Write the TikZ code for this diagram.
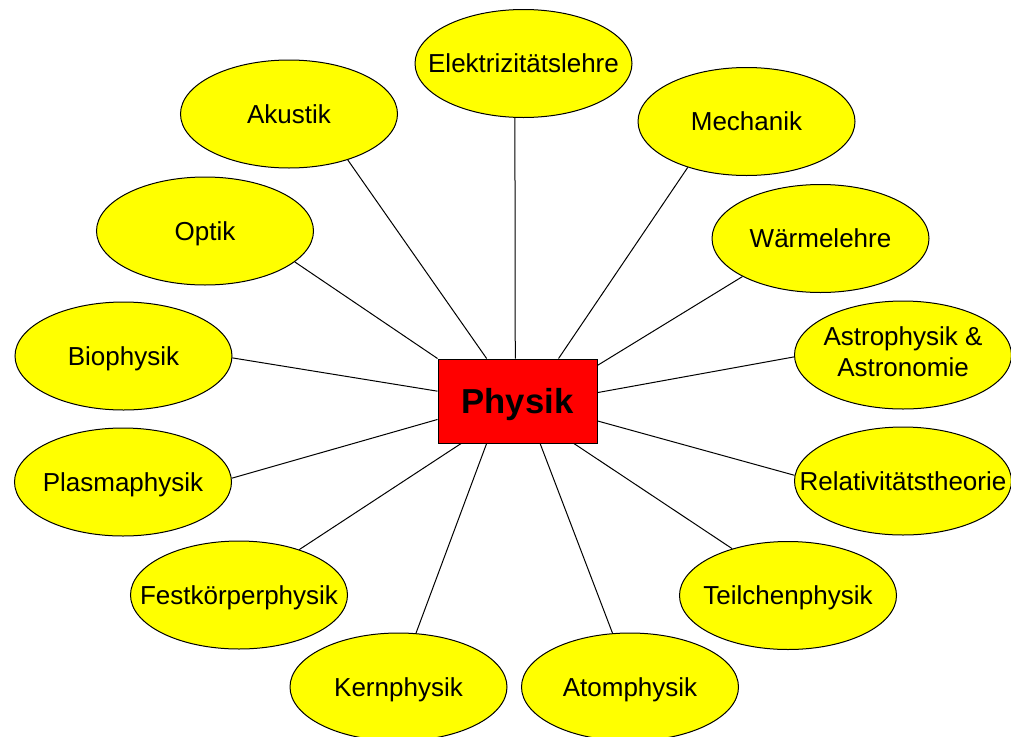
\documentclass[tikz,border=0pt]{standalone}
\usepackage{fontspec}
\setmainfont{Liberation Sans}
\usetikzlibrary{shapes.geometric}
\definecolor{yfill}{RGB}{255,255,0}
\definecolor{rfill}{RGB}{255,0,0}
\begin{document}
\begin{tikzpicture}[x=0.75pt,y=-0.75pt,
  topic/.style={ellipse, draw=black, line width=0.75pt, fill=yfill,
    minimum width=162.75pt, minimum height=81pt, inner sep=0pt,
    font=\fontsize{19.5}{23.4}\selectfont, text depth=0pt},
  topictwo/.style={ellipse, draw=black, line width=0.75pt, fill=yfill,
    minimum width=162.75pt, minimum height=81pt, inner sep=0pt,
    font=\fontsize{19.5}{23.4}\selectfont},
  hub/.style={rectangle, draw=black, fill=rfill, line width=0.75pt,
    minimum width=119.25pt, minimum height=63pt, inner sep=0pt,
    font=\fontsize{26}{31}\selectfont\bfseries, text depth=0pt},
  link/.style={draw=black, line width=0.75pt}]
\path[use as bounding box, clip] (0,0) rectangle (1011,736);
\fill[white] (0,0) rectangle (1011,736);

\node[hub] (phys) at (517.5,401) {Physik};

\node[topic] (elek) at (523.5,63.5) {\makebox[0pt]{Elektrizitätslehre}};
\node[topic] (akus) at (289,114) {\makebox[0pt]{Akustik}};
\node[topic] (mech) at (746.5,121.5) {\makebox[0pt]{Mechanik}};
\node[topic] (opti) at (205,231) {\makebox[0pt]{Optik}};
\node[topic] (waer) at (820.5,238.5) {\makebox[0pt]{Wärmelehre}};
\node[topic] (bio) at (123.5,356) {\makebox[0pt]{Biophysik}};
\node[topictwo] (astro) at (903,355) {\makebox[0pt]{\begin{tabular}{@{}c@{}}Astrophysik \&\\Astronomie\end{tabular}}};
\node[topic] (plas) at (123,482) {\makebox[0pt]{Plasmaphysik}};
\node[topic] (rela) at (903,481) {\makebox[0pt]{Relativitätstheorie}};
\node[topic] (fest) at (239,595) {\makebox[0pt]{Festkörperphysik}};
\node[topic] (teil) at (788,595.5) {\makebox[0pt]{Teilchenphysik}};
\node[topic] (kern) at (398.5,687) {\makebox[0pt]{Kernphysik}};
\node[topic] (atom) at (630,687) {\makebox[0pt]{Atomphysik}};

\draw[link] (phys.93.4) -- (elek.261);
\draw[link] (phys.126) -- (akus.322);
\draw[link] (phys.46.8) -- (mech.218.5);
\draw[link] (phys.north west) -- (opti.341.9);
\draw[link] (phys.24.4) -- (waer.206.7);
\draw[link] (phys.173.5) -- (bio.359);
\draw[link] (phys.6.5) -- (astro.181.6);
\draw[link] (phys.193.4) -- (plas.2.6);
\draw[link] (phys.346.6) -- (rela.177.8);
\draw[link] (phys.217.1) -- (fest.37.3);
\draw[link] (phys.234.9) -- (kern.72.4);
\draw[link] (phys.298.2) -- (atom.108.1);
\draw[link] (phys.323.9) -- (teil.140.7);
\end{tikzpicture}
\end{document}
